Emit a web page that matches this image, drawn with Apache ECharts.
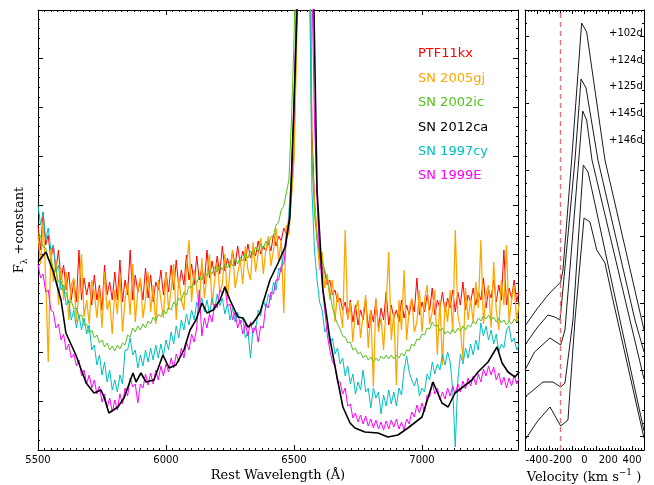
<!DOCTYPE html>
<html><head><meta charset="utf-8">
<script src="https://cdn.jsdelivr.net/npm/echarts@6/dist/echarts.min.js"></script>
<style>html,body{margin:0;padding:0;background:#fff}#c{width:654px;height:485px}</style>
</head><body><div id="c"></div>
<script>
// ---------- data ----------
const WAVE_START = 5500, WAVE_STEP = 10; // noisy spectra sampled every 10 Å
const legendNames = ['PTF11kx', 'SN 2005gj', 'SN 2002ic', 'SN 2012ca', 'SN 1997cy', 'SN 1999E'];
const legendColors = ['#ff0000', '#ffa500', '#55c21b', '#000000', '#00bfbf', '#ff00ff'];
const xTickLabelsRight = [-400, -200, 0, 200, 400];
const epochLabels = ['+102d', '+124d', '+125d', '+145d', '+146d'];
const markVelocity = -200;

const ptf11kx = [
225,200,238,205,215,190,205,180,200,170,
185,160,178,150,170,148,200,150,172,155,
168,145,175,150,165,140,185,155,168,150,
178,150,190,148,170,155,200,150,175,158,
170,150,182,152,175,148,168,160,180,155,
178,158,185,160,190,162,180,165,195,170,
186,165,194,170,182,166,200,172,189,174,
194,176,204,179,192,182,199,184,204,186,
199,189,206,192,202,194,209,196,204,199,
209,199,216,204,214,209,222,216,228,255,
300,420,580,680,720,720,600,320,250,215,
195,182,178,165,170,155,160,148,152,140,
148,132,150,128,145,125,140,130,150,122,
140,128,150,122,142,130,158,125,145,132,
140,128,150,132,145,135,150,138,172,135,
148,138,155,140,162,135,150,142,158,138,
152,142,160,138,158,145,168,140,155,148,
162,145,158,150,172,142,160,152,170,148,
165,150,200,145,162,152,170,148,160];

const sn2005gj = [
215,186,230,172,88,200,168,190,145,182,
150,178,130,165,172,128,160,196,133,150,
126,170,158,132,162,122,178,140,150,116,
160,136,176,118,150,168,135,186,128,160,
172,132,150,178,138,165,126,170,150,132,
178,140,160,186,130,172,150,140,182,210,
148,180,162,140,192,152,175,196,145,170,
188,158,166,196,150,180,200,162,176,190,
166,204,180,170,208,178,196,212,176,200,
214,184,200,222,190,210,137,225,215,252,
290,400,560,650,700,700,560,290,248,212,
180,198,162,176,150,170,128,158,140,122,
220,130,148,108,140,150,112,135,155,102,
140,63,152,118,132,100,146,198,110,138,
65,150,120,180,110,140,152,118,128,160,
118,150,165,126,138,160,95,150,85,148,
128,160,118,220,135,122,90,162,130,150,
128,168,142,210,126,155,165,122,188,140,
120,170,145,205,128,150,165,128,148];

const sn2002ic = [
217,214,203,202,191,190,180,179,168,169,
158,157,147,149,141,142,134,135,125,126,
117,120,112,115,107,110,103,107,100,104,
99,105,101,107,105,115,113,122,118,124,
120,126,122,129,126,133,129,136,133,140,
136,143,140,148,144,152,149,158,155,164,
162,171,167,174,170,177,174,180,176,183,
178,185,180,186,182,189,184,191,186,193,
189,196,192,199,195,203,198,206,201,209,
205,213,214,225,228,240,244,257,270,330,
410,520,640,700,720,700,480,300,235,210,
196,189,180,170,158,143,133,126,121,114,
113,107,108,100,102,96,98,92,95,90,
93,88,92,89,94,91,95,91,95,91,
95,92,97,94,100,99,106,104,111,110,
116,115,122,121,128,124,125,119,122,116,
119,116,121,117,122,119,124,120,125,123,
129,126,132,129,134,131,135,130,133,128,
132,127,130,125,129,126,131,128,131];

const sn1997cy = [
245,225,238,210,222,200,205,178,185,160,
165,145,150,130,140,122,135,120,132,116,
125,100,105,85,95,75,88,68,80,60,
70,58,75,66,100,100,112,95,100,82,
95,84,100,88,102,90,105,92,106,94,
110,100,118,106,124,112,130,120,136,125,
140,130,148,140,152,138,150,136,152,140,
156,144,152,136,146,130,142,128,138,126,
132,112,118,92,122,120,140,134,150,142,
156,150,168,160,182,178,198,205,238,275,
350,460,600,700,720,700,520,260,200,170,
148,140,118,124,106,112,96,102,86,92,
74,84,66,76,56,68,60,80,58,62,
42,62,52,58,36,55,44,60,46,58,
44,62,55,80,94,78,70,64,72,54,
62,58,76,70,88,76,86,80,96,85,
98,88,60,3,70,96,86,102,92,106,
95,110,100,127,114,124,110,120,106,116,
98,106,102,120,124,108,112,100,106];

const sn1999e = [
186,172,176,158,160,140,138,122,126,110,
116,100,106,92,96,84,90,74,80,66,
75,62,70,56,64,48,56,42,52,38,
50,40,56,46,62,54,72,63,66,47,
66,62,76,65,77,66,80,70,84,74,
86,78,92,82,96,88,102,92,108,100,
116,108,122,160,114,132,122,136,128,146,
142,160,156,164,144,146,130,138,122,130,
116,126,114,128,117,124,108,124,122,146,
142,158,156,170,170,184,186,208,226,265,
340,450,590,690,720,720,640,470,330,250,
195,165,140,115,100,88,84,68,68,56,
62,44,46,32,37,28,35,26,34,24,
31,22,30,21,28,20,29,21,30,23,
31,21,28,20,31,26,38,33,45,37,
47,38,55,53,68,56,62,50,58,51,
62,54,64,56,66,58,69,61,72,64,
74,65,76,68,81,74,84,75,83,70,
77,65,73,62,72,64,75,66,72];

// smoothed spectrum, [wavelength, flux]
const sn2012ca = [
[5500,188],[5531,198],[5560,178],[5590,150],[5609,117],[5648,95],[5688,67],[5719,57],[5746,60],[5758,53],
[5777,37],[5812,43],[5836,52],[5871,77],[5883,68],[5902,77],[5922,68],[5953,70],[5988,95],[6012,82],
[6039,85],[6070,100],[6094,120],[6117,130],[6141,147],[6160,137],[6184,140],[6211,150],[6230,163],[6250,150],
[6281,133],[6301,132],[6320,123],[6340,127],[6367,137],[6406,170],[6438,187],[6465,203],[6484,233],[6500,345],
[6512,440],[6530,700],[6555,700],[6578,440],[6590,260],[6613,160],[6641,110],[6668,73],[6691,43],[6719,27],
[6738,22],[6777,18],[6828,17],[6867,13],[6906,15],[6945,22],[7000,33],[7043,68],[7078,47],[7102,43],
[7129,57],[7160,63],[7195,70],[7219,78],[7258,88],[7293,103],[7313,87],[7336,78],[7363,73],[7380,78]];

// H-alpha velocity profiles, [velocity km/s, flux + offset]
const prof102 = [[-500,124],[-400,141],[-300,156],[-200,168],[-181,180],[-108,290],[-24,427],[18,418],[172,290],[481,130],[500,120]];
const prof124 = [[-500,105],[-400,122],[-307,135],[-250,133],[-206,130],[-170,175],[-80,290],[-29,371],[13,362],[113,290],[424,130],[500,98]];
const prof125 = [[-500,80],[-420,98],[-290,112],[-200,105],[-164,120],[-15,339],[18,330],[63,290],[382,130],[500,71]];
const prof145 = [[-500,53],[-349,68],[-265,68],[-200,63],[-164,67],[-97,130],[-10,285],[30,278],[298,130],[500,19]];
const prof146 = [[-500,10],[-400,28],[-290,43],[-200,24],[-139,30],[-80,130],[-4,232],[46,228],[103,200],[172,187],[239,150],[500,12]];

// ---------- build ----------
const onGrid = arr => arr.map((v, i) => [WAVE_START + WAVE_STEP * i, v]);
const spectra = {
  'PTF11kx': onGrid(ptf11kx),
  'SN 2005gj': onGrid(sn2005gj),
  'SN 2002ic': onGrid(sn2002ic),
  'SN 1997cy': onGrid(sn1997cy),
  'SN 1999E': onGrid(sn1999e),
  'SN 2012ca': sn2012ca
};
const drawOrder = ['PTF11kx', 'SN 2005gj', 'SN 2002ic', 'SN 1997cy', 'SN 1999E', 'SN 2012ca'];
const colorOf = n => legendColors[legendNames.indexOf(n)];
const widthOf = n => n === 'SN 2012ca' ? 1.6 : (n === 'SN 2005gj' ? 1.25 : 1);

const majorsR = [], minorsR = [];
for (let k = 1; k * 40 / 3 <= 440; k++) { const v = k * 40 / 3; if (k % 5 === 1) majorsR.push(v); else minorsR.push(v); }

const FONT = 'DejaVu Sans';
const axisLineBlack = { show: true, onZero: false, lineStyle: { color: '#000', width: 1 } };
const noLine = { show: false, onZero: false };
function xLeft(pos, labels) {
  return { type: 'value', gridIndex: 0, position: pos, min: 5500, max: 7375, interval: 500,
    axisLine: axisLineBlack, splitLine: { show: false },
    axisTick: { show: true, inside: true, length: 5, lineStyle: { color: '#000' } },
    minorTick: { show: true, splitNumber: 20, length: 2, lineStyle: { color: '#000' } },
    axisLabel: { show: labels, showMaxLabel: false, fontSize: 10, fontFamily: FONT, color: '#000', margin: 5,
      formatter: v => String(v) } };
}
function yLeft(pos) {
  return { type: 'value', gridIndex: 0, position: pos, min: 0, max: 440, interval: 49,
    axisLine: axisLineBlack, splitLine: { show: false }, axisLabel: { show: false },
    axisTick: { show: true, inside: true, length: 5, lineStyle: { color: '#000' } },
    minorTick: { show: true, splitNumber: 5, length: 2, lineStyle: { color: '#000' } } };
}
function xRight(pos, labels) {
  return { type: 'value', gridIndex: 1, position: pos, min: -500, max: 500, interval: 100,
    axisLine: axisLineBlack, splitLine: { show: false },
    axisTick: { show: true, inside: true, length: 4, lineStyle: { color: '#000' } },
    minorTick: { show: true, splitNumber: 4, length: 2, lineStyle: { color: '#000' } },
    axisLabel: { show: labels, interval: 0, fontSize: 10, fontFamily: FONT, color: '#000', margin: 5,
      formatter: v => xTickLabelsRight.indexOf(v) >= 0 ? String(v) : '' } };
}
function yRight(pos, vals, len, line) {
  return { type: 'value', gridIndex: 1, position: pos, min: 0, max: 440,
    axisLine: line ? axisLineBlack : noLine, splitLine: { show: false }, axisLabel: { show: false },
    axisTick: { show: true, inside: true, length: len, customValues: vals, lineStyle: { color: '#000' } } };
}

const series = drawOrder.map(n => ({
  name: n, type: 'line', xAxisIndex: 0, yAxisIndex: 0, data: spectra[n],
  showSymbol: false, symbol: 'none', clip: true, silent: true,
  lineStyle: { color: colorOf(n), width: widthOf(n) },
  itemStyle: { color: colorOf(n) }
}));
[prof102, prof124, prof125, prof145, prof146].forEach((p, i) => {
  const s = { name: epochLabels[i], type: 'line', xAxisIndex: 2, yAxisIndex: 2, data: p,
    showSymbol: false, symbol: 'none', clip: true, silent: true,
    lineStyle: { color: '#1a1a1a', width: 1 } };
  if (i === 0) s.markLine = { silent: true, symbol: ['none', 'none'], label: { show: false },
    lineStyle: { color: '#ee7070', type: [5, 4], width: 1.4 }, data: [{ xAxis: markVelocity }] };
  series.push(s);
});

const graphics = [
  { type: 'text', x: 278, y: 476, style: { text: 'Rest Wavelength (Å)', font: '13px "DejaVu Serif"', fill: '#000', align: 'center', verticalAlign: 'middle' } },
  { type: 'text', x: 584, y: 476, style: { text: '{a|Velocity (km s}{c|−1}{a| )}', align: 'center', verticalAlign: 'middle',
      rich: { a: { fontFamily: 'DejaVu Serif', fontSize: 13, lineHeight: 16, fill: '#000', verticalAlign: 'bottom' },
              c: { fontFamily: 'DejaVu Serif', fontSize: 9, lineHeight: 10, fill: '#000', verticalAlign: 'top' } } } },
  { type: 'text', x: 21, y: 230, rotation: Math.PI / 2, style: { text: '{a|F}{b|λ}{a| +constant}', align: 'center', verticalAlign: 'middle',
      rich: { a: { fontFamily: 'DejaVu Serif', fontSize: 13, lineHeight: 16, fill: '#000', verticalAlign: 'top' },
              b: { fontFamily: 'DejaVu Serif', fontSize: 9, lineHeight: 10, fill: '#000', verticalAlign: 'bottom' } } } }
];
const epochY = [33, 60, 86.5, 113, 140];
epochLabels.forEach((t, i) => graphics.push({ type: 'text', x: 609, y: epochY[i],
  style: { text: t, font: '10px "DejaVu Sans"', fill: '#000', align: 'left', verticalAlign: 'middle' } }));

const option = {
  animation: false,
  backgroundColor: '#fff',
  grid: [
    { left: 38, top: 10, width: 480, height: 440 },
    { left: 525, top: 10, width: 119, height: 440 }
  ],
  xAxis: [xLeft('bottom', true), xLeft('top', false), xRight('bottom', true), xRight('top', false)],
  yAxis: [yLeft('left'), yLeft('right'),
    yRight('left', majorsR, 4, true), yRight('left', minorsR, 2, false),
    yRight('right', majorsR, 4, true), yRight('right', minorsR, 2, false)],
  legend: {
    orient: 'vertical', left: 413, top: 47, padding: 0, itemWidth: 0, itemHeight: 14, itemGap: 10.4,
    icon: 'rect', selectedMode: false,
    textStyle: { fontSize: 13, fontFamily: FONT, lineHeight: 14 },
    data: legendNames.map((n, i) => ({ name: n, textStyle: { color: legendColors[i] } }))
  },
  graphic: graphics,
  series: series
};
const chart = echarts.init(document.getElementById('c'), null, { renderer: 'canvas' });
chart.setOption(option);
</script>
</body></html>
